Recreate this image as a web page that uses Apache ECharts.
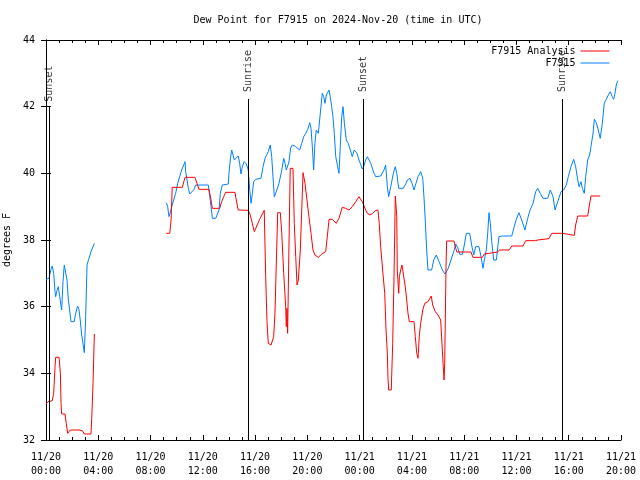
<!DOCTYPE html>
<html>
<head>
<meta charset="utf-8">
<script src="https://cdn.jsdelivr.net/npm/echarts@6/dist/echarts.min.js"></script>
<style>html,body{margin:0;padding:0;background:#fff;}#c{width:640px;height:480px;}</style>
</head>
<body>
<div id="c"></div>
<script>
// hours since 2024-11-20 00:00 UTC
const stationHours = [0.0,0.23,0.38,0.48,0.59,0.69,0.74,0.84,0.94,1.05,1.15,1.2,1.3,1.4,1.5,1.61,1.71,1.81,1.91,2.16,2.27,2.42,2.52,2.62,2.73,2.83,2.93,3.03,3.14,3.29,3.44,3.7,
  6.0,
  9.21,9.31,9.41,9.51,9.62,9.77,9.92,10.08,10.23,10.38,10.54,10.64,10.69,10.79,10.89,11.0,11.15,11.3,11.46,12.42,12.53,12.63,12.73,12.99,13.14,13.24,13.34,13.49,13.95,14.0,14.1,14.21,14.31,14.41,14.56,14.71,14.82,14.92,15.02,15.17,15.33,15.48,15.59,15.69,15.79,15.89,16.05,16.45,16.61,16.76,17.01,17.16,17.27,17.37,17.47,17.62,17.83,18.04,18.19,18.29,18.39,18.59,18.72,18.85,19.11,19.41,19.57,19.72,19.87,20.03,20.18,20.28,20.38,20.48,20.58,20.68,20.84,20.94,21.04,21.14,21.25,21.35,21.45,21.56,21.66,21.75,21.86,21.96,22.06,22.17,22.32,22.42,22.52,22.63,22.73,22.83,22.98,23.13,23.29,23.44,23.59,23.8,23.95,24.1,24.2,24.31,24.46,24.59,24.85,25.1,25.23,25.61,25.86,25.99,26.12,26.22,26.38,26.58,26.73,26.84,26.99,27.34,27.55,27.65,27.85,28.01,28.16,28.31,28.47,28.67,28.83,28.92,29.02,29.13,29.23,29.51,29.67,29.87,29.97,30.13,30.33,30.53,30.63,30.78,30.99,31.2,31.35,31.5,31.66,31.86,32.01,32.16,32.42,32.57,32.73,32.88,33.13,33.29,33.44,33.54,33.69,33.8,33.9,34.0,34.11,34.26,34.46,34.66,34.92,35.64,35.83,35.99,36.19,36.4,36.65,36.86,37.06,37.27,37.47,37.63,37.82,38.03,38.39,38.59,38.8,38.95,39.16,39.41,39.61,39.81,39.97,40.17,40.38,40.53,40.69,40.79,40.94,41.04,41.19,41.3,41.45,41.6,41.7,41.86,41.96,42.11,42.26,42.41,42.57,42.72,42.87,43.03,43.18,43.33,43.44,43.54,43.64,43.75];
const stationValues = [36.82,36.85,37.12,37.22,37.0,36.45,36.3,36.48,36.6,36.3,36.02,35.9,36.75,37.25,37.28,36.8,36.2,35.9,35.55,35.55,35.8,36.02,35.92,35.6,35.15,34.9,34.62,35.6,37.25,37.45,37.65,37.9,
  null,
  39.12,39.0,38.7,38.82,39.0,39.2,39.4,39.7,39.9,40.1,40.25,40.35,40.05,39.8,39.55,39.38,39.38,39.5,39.65,39.65,39.3,39.0,38.65,38.65,38.68,38.9,39.4,39.65,39.68,40.0,40.4,40.7,40.55,40.4,40.45,40.52,40.3,39.98,40.2,40.35,40.28,40.1,39.5,39.1,39.4,39.75,39.82,39.85,40.2,40.45,40.65,40.85,40.5,39.9,39.3,39.45,39.7,40.1,40.45,40.3,40.1,40.34,40.76,40.85,40.8,40.7,40.9,41.1,41.2,41.32,41.52,41.35,40.8,40.1,40.9,41.3,41.2,41.6,42.0,42.4,42.3,42.1,42.35,42.4,42.5,42.3,42.0,41.7,41.2,40.5,40.2,40.0,40.8,41.7,42.0,41.5,41.0,40.9,40.7,40.5,40.7,40.6,40.4,40.25,40.13,40.2,40.4,40.5,40.3,40.0,39.9,39.92,40.1,40.25,39.6,39.3,39.6,40.0,40.2,40.0,39.55,39.55,39.7,39.8,39.85,39.7,39.5,39.7,39.9,40.05,39.85,39.3,38.6,37.7,37.1,37.1,37.4,37.55,37.5,37.3,37.1,36.98,36.95,37.15,37.4,37.65,37.88,37.78,37.57,37.57,37.85,38.2,38.2,37.85,37.55,37.8,37.8,37.5,37.15,37.4,37.7,38.2,38.82,38.5,37.95,37.4,37.4,38.1,38.12,38.12,38.4,38.62,38.82,38.6,38.3,38.65,38.92,39.1,39.45,39.55,39.4,39.25,39.25,39.5,39.3,38.9,39.15,39.45,39.5,39.65,39.9,40.2,40.42,40.2,39.8,39.6,39.75,39.55,39.4,39.9,40.4,40.55,40.8,41.2,41.62,41.52,41.3,41.05,41.5,42.1,42.22,42.35,42.45,42.3,42.22,42.4,42.65,42.78];

const analysisHours = [0.0,0.15,0.48,0.59,0.69,0.74,1.0,1.1,1.15,1.2,1.45,1.55,1.66,1.76,1.86,2.52,2.62,2.78,2.93,3.44,3.5,3.6,3.7,
  6.0,
  9.21,9.47,9.57,9.66,10.43,10.64,11.4,11.55,11.71,12.47,12.63,12.73,13.29,13.44,13.6,13.75,14.46,14.56,14.71,15.48,15.63,15.94,16.35,16.7,16.81,16.91,17.01,17.22,17.42,17.52,17.73,17.93,18.04,18.19,18.34,18.39,18.44,18.49,18.59,18.69,18.9,19.0,19.11,19.21,19.31,19.46,19.57,19.67,19.82,19.97,20.12,20.28,20.43,20.58,20.84,21.1,21.4,21.5,21.66,21.91,22.21,22.42,22.67,22.93,23.19,23.44,23.7,23.95,24.2,24.46,24.59,24.79,25.0,25.2,25.4,25.5,25.61,25.76,25.92,26.02,26.12,26.17,26.22,26.42,26.53,26.63,26.73,26.84,26.88,26.99,27.04,27.14,27.24,27.39,27.49,27.6,27.7,27.8,28.16,28.26,28.37,28.47,28.57,28.67,28.83,28.98,29.23,29.48,29.59,29.79,30.0,30.2,30.3,30.4,30.46,30.51,30.61,30.66,31.22,31.35,31.45,32.52,32.67,33.39,33.54,33.69,34.56,34.72,35.43,35.64,36.5,36.71,37.47,37.63,38.49,38.7,39.51,39.61,40.43,40.53,40.69,41.45,41.6,41.7,42.41];
const analysisValues = [33.08,33.15,33.18,33.4,34.2,34.48,34.48,34.0,33.1,32.78,32.78,32.5,32.2,32.25,32.3,32.3,32.34,32.28,32.18,32.18,32.65,33.7,35.18,
  null,
  38.2,38.2,38.6,39.58,39.58,39.88,39.88,39.7,39.52,39.52,39.2,38.95,38.95,39.15,39.3,39.43,39.43,39.2,38.9,38.89,38.75,38.25,38.62,38.89,36.9,35.55,34.9,34.85,35.1,35.8,38.82,38.82,38.2,37.0,36.0,35.4,35.95,35.2,37.8,40.15,40.15,38.5,37.5,36.65,36.8,37.7,38.9,40.02,39.7,39.2,38.7,38.2,37.7,37.55,37.48,37.58,37.65,38.0,38.62,38.62,38.5,38.65,38.98,38.95,38.9,39.0,39.15,39.3,39.15,38.9,38.8,38.75,38.8,38.88,38.9,38.5,37.8,37.1,36.4,35.3,34.6,33.85,33.5,33.5,34.9,36.9,39.32,38.7,37.1,36.4,36.9,37.1,37.25,37.25,36.6,36.2,35.8,35.55,35.55,35.1,34.6,34.45,35.15,35.5,35.9,36.1,36.15,36.32,36.05,35.85,35.75,35.6,34.9,34.2,33.8,34.3,37.2,37.97,37.97,37.75,37.64,37.64,37.48,37.48,37.58,37.64,37.64,37.7,37.7,37.82,37.82,37.98,37.98,38.0,38.04,38.2,38.2,38.14,38.14,38.45,38.72,38.72,39.08,39.32,39.32];

const sunEventHours = [0.28, 15.47, 24.26, 39.49];
const sunEventNames = ['Sunset', 'Sunrise', 'Sunset', 'Sunrise'];

const xTickHours = [0, 4, 8, 12, 16, 20, 24, 28, 32, 36, 40, 44];
const yTicks = [32, 34, 36, 38, 40, 42, 44];

const seriesNames = ['F7915 Analysis', 'F7915'];

const pair = (hs, vs) => hs.map((h, i) => [h, vs[i] === null ? '-' : vs[i]]);

const FONT = 'DejaVu Sans Mono';
const pad = n => (n < 10 ? '0' : '') + n;
const xFmt = v => {
  const day = 20 + Math.floor(v / 24);
  const hh = Math.round(v % 24);
  return '11/' + day + '\n' + pad(hh) + ':00';
};

const xBase = {
  type: 'value', min: xTickHours[0], max: xTickHours[xTickHours.length - 1], interval: 4,
  splitLine: { show: false },
  axisLine: { show: true, lineStyle: { color: '#000', width: 1 } },
  axisTick: { show: true, inside: true, length: 5, lineStyle: { color: '#000' } },
  minorTick: { show: true, splitNumber: 4, length: 3, lineStyle: { color: '#000' } },
  minorSplitLine: { show: false }
};
const yBase = {
  type: 'value', min: yTicks[0], max: yTicks[yTicks.length - 1], interval: 2,
  splitLine: { show: false },
  axisLine: { show: true, lineStyle: { color: '#000', width: 1 } },
  axisTick: { show: true, inside: true, length: 5, lineStyle: { color: '#000' } }
};

const lineTop = 42.23, labelBase = 42.44;
const sunLines = sunEventHours.map((h, i) => [
  { coord: [h, yTicks[0]] },
  { coord: [h, i === 0 ? 42.02 : lineTop] }
]);
const sunLabels = sunEventHours.map((h, i) => ({ value: [h, i === 0 ? 42.15 : labelBase], name: sunEventNames[i] }));

const chart = echarts.init(document.getElementById('c'), null, { renderer: 'canvas' });
chart.setOption({
  animation: false,
  backgroundColor: '#fff',
  title: {
    text: 'Dew Point for F7915 on 2024-Nov-20 (time in UTC)',
    left: 333, top: 10, textAlign: 'center',
    textStyle: { fontFamily: FONT, fontSize: 10, fontWeight: 'normal', color: '#000' }
  },
  legend: {
    data: seriesNames,
    orient: 'vertical', right: 25, top: 41, align: 'right',
    itemWidth: 29, itemHeight: 10, itemGap: 2,
    lineStyle: { width: 1 },
    itemStyle: { opacity: 0 },
    textStyle: { fontFamily: FONT, fontSize: 10, color: '#000' }
  },
  grid: { left: 46, right: 19, top: 40, bottom: 40, containLabel: false, outerBoundsMode: 'none' },
  xAxis: [
    Object.assign({}, xBase, {
      position: 'bottom',
      axisLabel: { show: true, formatter: xFmt, fontFamily: FONT, fontSize: 10, color: '#000', lineHeight: 14, margin: 10 }
    }),
    Object.assign({}, xBase, { position: 'top', axisLabel: { show: false } })
  ],
  yAxis: [
    Object.assign({}, yBase, {
      position: 'left',
      name: 'degrees F', nameLocation: 'middle', nameGap: 28, nameRotate: 90,
      nameTextStyle: { fontFamily: FONT, fontSize: 10, color: '#000' },
      axisLabel: { show: true, fontFamily: FONT, fontSize: 10, color: '#000', margin: 11 }
    }),
    Object.assign({}, yBase, { position: 'right', axisLabel: { show: false } })
  ],
  series: [
    {
      name: seriesNames[0], type: 'line', data: pair(analysisHours, analysisValues),
      showSymbol: false, symbol: 'none', connectNulls: false,
      lineStyle: { color: '#ff0000', width: 1 }, itemStyle: { color: '#ff0000' }, z: 3
    },
    {
      name: seriesNames[1], type: 'line', data: pair(stationHours, stationValues),
      showSymbol: false, symbol: 'none', connectNulls: false,
      lineStyle: { color: '#0080ff', width: 1 }, itemStyle: { color: '#0080ff' }, z: 2
    },
    {
      type: 'scatter', data: sunLabels, symbolSize: 0, silent: true, z: 4,
      label: {
        show: true, formatter: p => p.name, rotate: 90, position: 'inside',
        align: 'left', verticalAlign: 'middle',
        fontFamily: FONT, fontSize: 10, color: '#000'
      },
      markLine: {
        silent: true, symbol: 'none', animation: false,
        lineStyle: { color: '#000', width: 1, type: 'solid' },
        label: { show: false },
        data: sunLines
      }
    }
  ]
});
</script>
</body>
</html>
